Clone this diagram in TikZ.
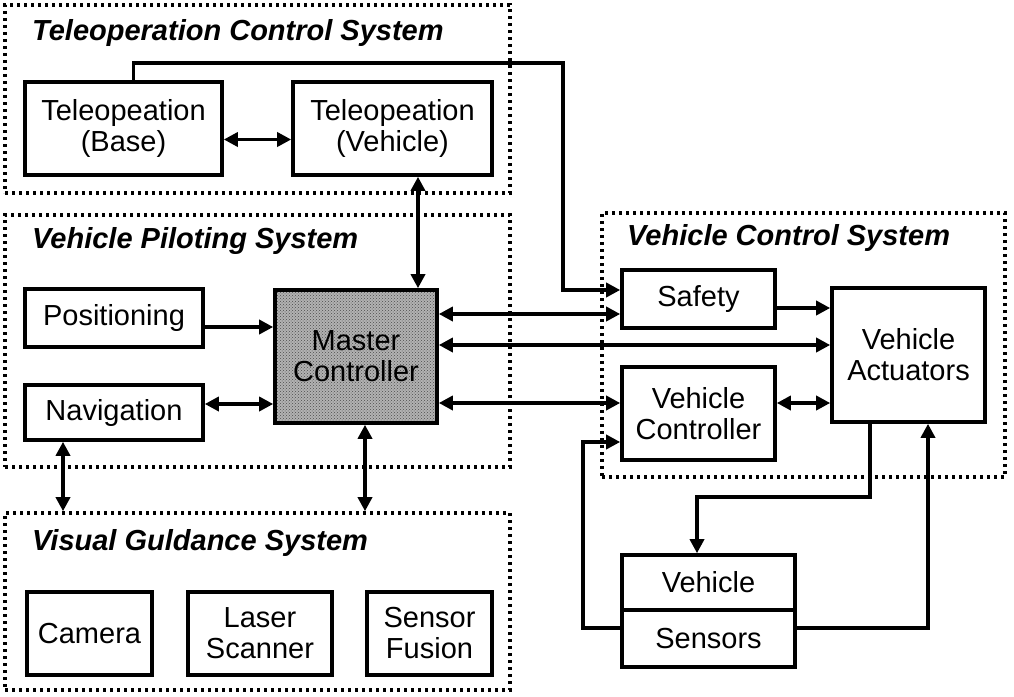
\documentclass[tikz,border=0pt]{standalone}
\usepackage{fontspec}
\setmainfont{Liberation Sans}
\usetikzlibrary{arrows.meta,patterns}
\begin{document}
\begin{tikzpicture}[x=1pt,y=-1pt,
  blk/.style={draw,line width=3.6pt,align=center,inner sep=0pt,font=\fontsize{29}{31}\selectfont},
  frame/.style={draw,line width=3.6pt,dash pattern=on 3pt off 4pt,inner sep=0pt},
  ttl/.style={anchor=west,inner sep=0pt,font=\fontsize{29}{30}\selectfont\bfseries\itshape},
  con/.style={line width=3.4pt},
  tip/.style={-{Triangle[length=14pt,width=14pt]}},
  dtip/.style={{Triangle[length=14pt,width=14pt]}-{Triangle[length=14pt,width=14pt]}}
]
\useasboundingbox (0,0) rectangle (1014,696);
% frames
\node[frame,minimum width=505pt,minimum height=188pt] (Ftcs) at (257.5,99) {};
\node[frame,minimum width=505pt,minimum height=252pt] (Fvps) at (257.5,341) {};
\node[frame,minimum width=505pt,minimum height=177pt] (Fvgs) at (257.5,601.5) {};
\node[frame,minimum width=403pt,minimum height=264pt] (Fvcs) at (803.5,345) {};
% titles
\node[ttl] (Ttcs) at (32,33) {Teleoperation Control System};
\node[ttl] (Tvps) at (32,241) {Vehicle Piloting System};
\node[ttl] (Tvgs) at (32,543) {Visual Guldance System};
\node[ttl] (Tvcs) at (627,238) {Vehicle Control System};
% blocks
\node[blk,minimum width=197pt,minimum height=93pt] (TB) at (123.5,128.5) {Teleopeation\\(Base)};
\node[blk,minimum width=199pt,minimum height=93pt] (TV) at (392.5,128.5) {Teleopeation\\(Vehicle)};
\node[blk,minimum width=178pt,minimum height=58pt] (Pos) at (114,318) {Positioning};
\node[blk,minimum width=178pt,minimum height=55pt] (Nav) at (114,412.5) {Navigation};
\node[blk,minimum width=162pt,minimum height=133pt,preaction={fill=black!30},pattern=crosshatch dots,pattern color=black!70] (MC) at (356,356.5) {Master\\Controller};
\node[blk,minimum width=125pt,minimum height=83pt] (Cam) at (89.5,633.5) {Camera};
\node[blk,minimum width=144pt,minimum height=83pt] (LS) at (260,633.5) {Laser\\Scanner};
\node[blk,minimum width=125pt,minimum height=83pt] (SF) at (429.5,633.5) {Sensor\\Fusion};
\node[blk,minimum width=153pt,minimum height=58pt] (Saf) at (698.5,299) {Safety};
\node[blk,minimum width=153pt,minimum height=134pt] (VA) at (908.5,355) {Vehicle\\Actuators};
\node[blk,minimum width=153pt,minimum height=93pt] (VC) at (698.5,413.5) {Vehicle\\Controller};
\node[blk,minimum width=173pt,minimum height=55pt] (Veh) at (708.5,582.5) {Vehicle};
\node[blk,minimum width=173pt,minimum height=57pt] (Sen) at (708.5,638.5) {Sensors};
% helper coordinates
\coordinate (c1) at (563,63);
\coordinate (c2) at (697,497);
\coordinate (c3) at (583,442);
% connectors
\draw[con,dtip] ([yshift=-11pt]TB.east) -- ([yshift=-11pt]TV.west);
\draw[con,tip] ([xshift=10pt]TB.north) |- (c1) |- ([yshift=9pt]Saf.west);
\draw[con,dtip] ([xshift=25.5pt]TV.south) -- ([xshift=25.5pt]TV.south |- MC.north);
\draw[con,tip] ([yshift=-9pt]Pos.east) -- ([yshift=-9pt]Pos.east -| MC.west);
\draw[con,dtip] ([yshift=8.5pt]Nav.east) -- ([yshift=8.5pt]Nav.east -| MC.west);
\draw[con,dtip] ([xshift=-51pt]Nav.south) -- ([xshift=-51pt]Nav.south |- Fvgs.north);
\draw[con,dtip] ([xshift=9pt]MC.south) -- ([xshift=9pt]MC.south |- Fvgs.north);
\draw[con,dtip] ([yshift=-15pt]Saf.west -| MC.east) -- ([yshift=-15pt]Saf.west);
\draw[con,dtip] ([yshift=10pt]VA.west -| MC.east) -- ([yshift=10pt]VA.west);
\draw[con,dtip] ([yshift=10.5pt]VC.west -| MC.east) -- ([yshift=10.5pt]VC.west);
\draw[con,tip] ([yshift=-9pt]Saf.east) -- ([yshift=-9pt]Saf.east -| VA.west);
\draw[con,dtip] ([yshift=10.5pt]VC.east) -- ([yshift=10.5pt]VC.east -| VA.west);
\draw[con,tip] ([xshift=-38.5pt]VA.south) |- (c2) -- ([xshift=-11.5pt]Veh.north);
\draw[con,tip] ([yshift=10.5pt]Sen.east) -| ([xshift=19.5pt]VA.south);
\draw[con,tip] ([yshift=10.5pt]Sen.west) -| (c3) -- ([yshift=-28.5pt]VC.west);
\end{tikzpicture}
\end{document}
